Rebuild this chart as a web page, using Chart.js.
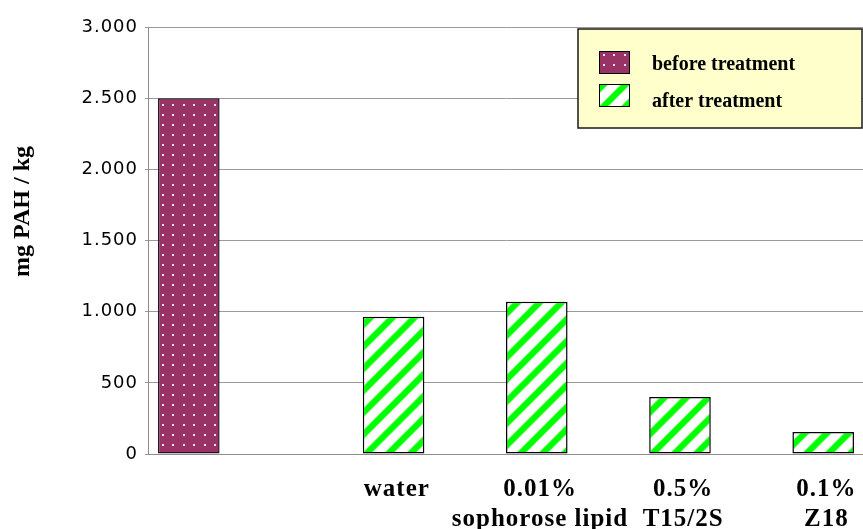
<!DOCTYPE html>
<html>
<head>
<meta charset="utf-8">
<script src="https://cdn.jsdelivr.net/npm/chart.js@4.4.1/dist/chart.umd.min.js"></script>
<style>
  html, body { margin: 0; padding: 0; background: #fff; overflow: hidden; }
  #wrap { position: relative; width: 864px; height: 529px; }
</style>
</head>
<body>
<div id="wrap"><canvas id="chart"></canvas></div>
<script>
// Categories (multi-line tick labels), series values and axis ticks
const categories = ['', ['water'], ['0.01%', 'sophorose lipid'], ['0.5%', 'T15/2S'], ['0.1%', 'Z18']];
const beforeTreatment = [2500, null, null, null, null];
const afterTreatment = [null, 965, 1070, 400, 155];
const seriesNames = ['before treatment', 'after treatment'];
const yAxisTitle = 'mg PAH / kg';
const yTickValues = [0, 500, 1000, 1500, 2000, 2500, 3000];

// thousands separator "."
function fmt(v) {
  return String(v).replace(/\B(?=(\d{3})+(?!\d))/g, '.');
}

// plum fill with a light dot grid
function dotPattern() {
  const c = document.createElement('canvas');
  c.width = 21; c.height = 20;
  const g = c.getContext('2d');
  g.fillStyle = '#993366';
  g.fillRect(0, 0, 21, 20);
  g.fillStyle = '#f8e6ef';
  [[4, 4], [15, 4], [4, 14], [15, 14]].forEach(([x, y]) => g.fillRect(x, y, 2, 2));
  return g.createPattern(c, 'repeat');
}

// bright green diagonal stripes on white
function stripePattern() {
  const n = 22;
  const c = document.createElement('canvas');
  c.width = n; c.height = n;
  const g = c.getContext('2d');
  const img = g.createImageData(n, n);
  for (let y = 0; y < n; y++) {
    for (let x = 0; x < n; x++) {
      const t = (x + y + 0.5) % n;
      const d = Math.abs((((t - 5.5) % n) + n * 1.5) % n - n / 2);
      let a = (5.5 - d) / 2;
      a = Math.max(0, Math.min(1, a));
      const i = (y * n + x) * 4;
      img.data[i] = Math.round(255 * (1 - a));
      img.data[i + 1] = 255;
      img.data[i + 2] = Math.round(255 * (1 - a));
      img.data[i + 3] = 255;
    }
  }
  g.putImageData(img, 0, 0);
  return g.createPattern(c, 'repeat');
}

const dots = dotPattern();
const stripes = stripePattern();

// spacing for the axis texts, boxed legend and rotated y title
const decorations = {
  id: 'decorations',
  beforeDraw(chart) {
    chart.ctx.letterSpacing = '1px';
  },
  afterDraw(chart) {
    const ctx = chart.ctx;
    const area = chart.chartArea;
    ctx.save();
    ctx.letterSpacing = '0px';

    // legend box
    const bx = area.right - 286, by = area.top + 2, bw = 284, bh = 99;
    ctx.fillStyle = '#FFFFCC';
    ctx.fillRect(bx, by, bw, bh);
    ctx.strokeStyle = '#1a1a1a';
    ctx.lineWidth = 1.5;
    ctx.strokeRect(bx, by, bw, bh);

    ctx.font = 'bold 20px "Liberation Serif"';
    ctx.textAlign = 'left';
    ctx.textBaseline = 'alphabetic';
    const rows = [22, 55];
    const baselines = [41, 78];
    chart.data.datasets.forEach((ds, i) => {
      const sx = bx + 21, sy = by + rows[i];
      ctx.fillStyle = ds.backgroundColor;
      ctx.fillRect(sx, sy, 30, 22);
      ctx.strokeStyle = '#000';
      ctx.lineWidth = 1;
      ctx.strokeRect(sx + 0.5, sy + 0.5, 30, 22);
      ctx.fillStyle = '#000';
      ctx.fillText(ds.label, bx + 74, by + baselines[i]);
    });

    // y axis title
    ctx.translate(23, area.top + area.height * 0.432);
    ctx.rotate(-Math.PI / 2);
    ctx.font = 'bold 24px "Liberation Serif"';
    ctx.textAlign = 'center';
    ctx.textBaseline = 'middle';
    ctx.fillStyle = '#000';
    ctx.fillText(yAxisTitle, 0, 0);
    ctx.restore();
    ctx.letterSpacing = '0px';
  }
};

new Chart(document.getElementById('chart'), {
  type: 'bar',
  data: {
    labels: categories,
    datasets: [
      {
        label: seriesNames[0],
        data: beforeTreatment,
        backgroundColor: dots,
        borderColor: '#2a1020',
        borderWidth: 1.5,
        borderSkipped: false
      },
      {
        label: seriesNames[1],
        data: afterTreatment,
        backgroundColor: stripes,
        borderColor: '#000',
        borderWidth: 1.5,
        borderSkipped: false
      }
    ]
  },
  options: {
    responsive: true,
    maintainAspectRatio: false,
    animation: false,
    devicePixelRatio: 1,
    layout: { padding: { top: 27, left: 0, right: 0, bottom: 0 } },
    datasets: { bar: { barPercentage: 1, categoryPercentage: 0.86 } },
    plugins: {
      legend: { display: false },
      tooltip: { enabled: false }
    },
    scales: {
      x: {
        grid: { display: false, drawTicks: false },
        border: { display: true, color: '#8c8c8c', width: 1 },
        afterFit(scale) { scale.height = 75; },
        ticks: {
          autoSkip: false,
          maxRotation: 0,
          minRotation: 0,
          padding: 21,
          labelOffset: 34,
          color: '#000',
          font: { family: '"Liberation Serif"', weight: 'bold', size: 25, lineHeight: 1.18 }
        }
      },
      y: {
        min: 0,
        max: 3000,
        afterFit(scale) { scale.width = 148; },
        afterBuildTicks(scale) {
          scale.ticks = yTickValues.map(v => ({ value: v }));
        },
        grid: { color: '#9a9a9a', lineWidth: 1, drawTicks: true, tickLength: 3 },
        border: { display: true, color: '#8c8c8c', width: 1 },
        ticks: {
          padding: 7,
          color: '#000',
          font: { family: '"DejaVu Sans"', size: 18 },
          callback: v => fmt(v)
        }
      }
    }
  },
  plugins: [decorations]
});
</script>
</body>
</html>
